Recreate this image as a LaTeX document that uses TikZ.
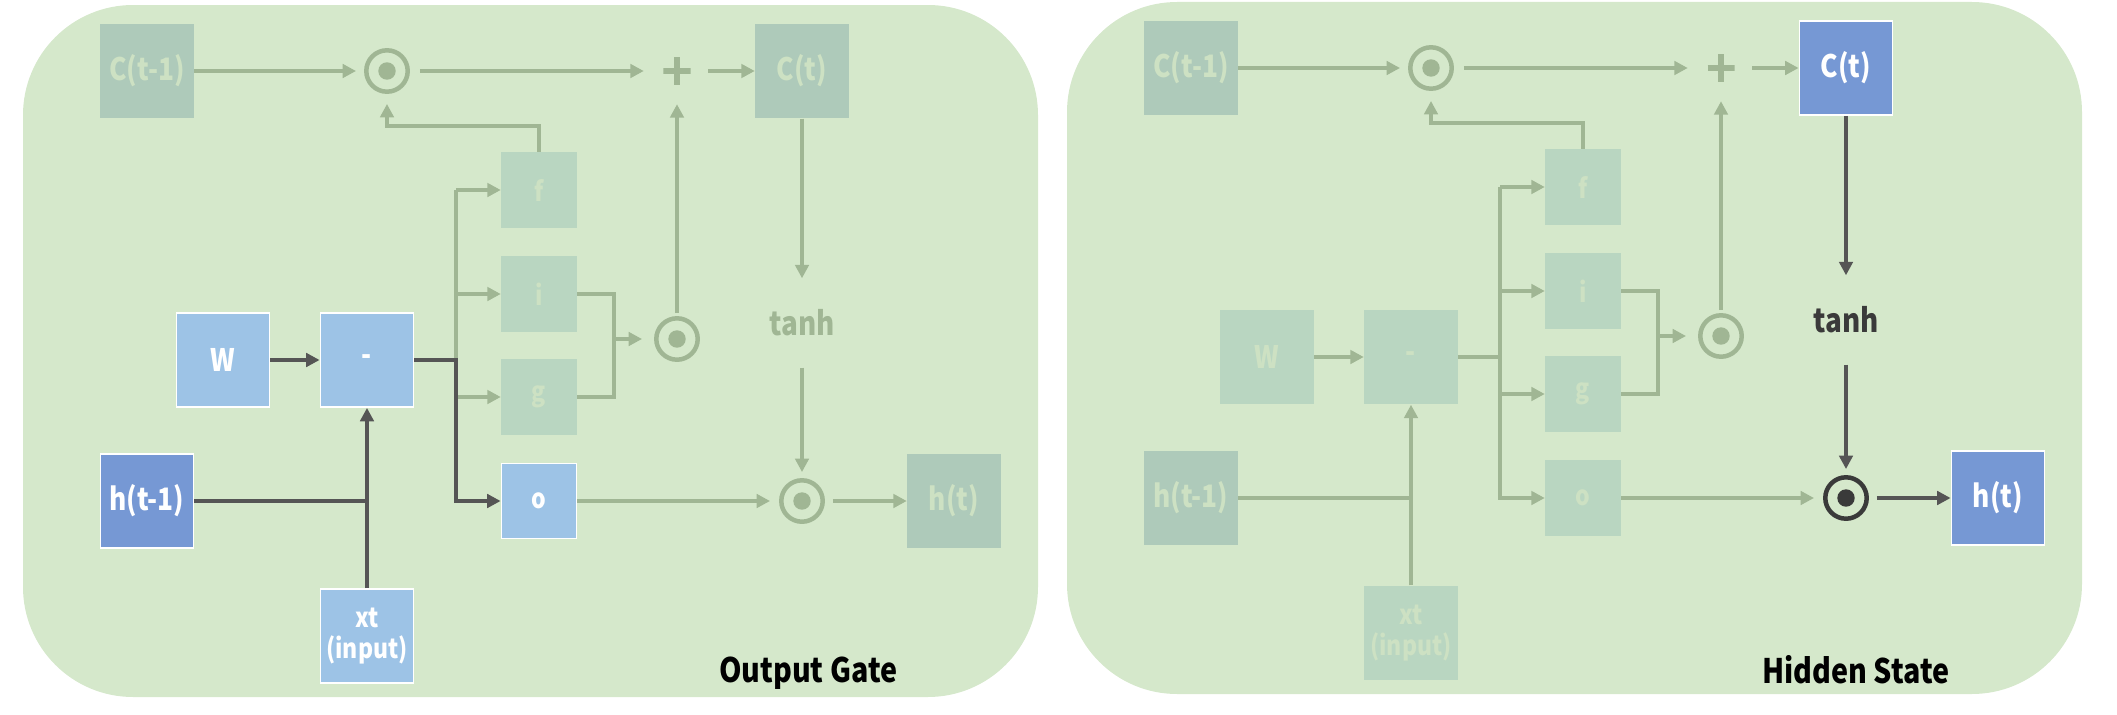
\documentclass[tikz,border=0pt]{standalone}
\usepackage{fontspec}
\setmainfont{Noto Sans CJK KR}[FakeStretch=0.85]
\usetikzlibrary{arrows.meta}

\definecolor{panelbg}{HTML}{D5E8CB}
\definecolor{fadebox}{HTML}{B9D6C1}
\definecolor{fadedeep}{HTML}{AECABA}
\definecolor{fadetext}{HTML}{CDE1C3}
\definecolor{fadeline}{HTML}{A0B694}
\definecolor{liteblue}{HTML}{9DC3E6}
\definecolor{deepblue}{HTML}{7698D4}
\definecolor{darkline}{HTML}{555555}
\definecolor{darkdot}{HTML}{3A3A3A}

\tikzset{
  box/.style={rectangle, inner sep=0pt, minimum width=0.93cm, minimum height=0.94cm,
    align=center, font=\bfseries\fontsize{8.8}{9.5}\selectfont},
  gate/.style={box, minimum width=0.75cm, minimum height=0.75cm,
    font=\bfseries\fontsize{7.7}{8.5}\selectfont},
  lit/.style={fill=liteblue, draw=white, line width=0.5pt, text=white},
  deep/.style={fill=deepblue, draw=white, line width=0.5pt, text=white},
  dim/.style={fill=fadebox, text=fadetext},
  dimdeep/.style={fill=fadedeep, text=fadetext},
  wire/.style={draw=fadeline, line width=1.3pt},
  live/.style={draw=darkline, line width=1.4pt},
  head/.style={-{Triangle[length=3.8pt,width=3.8pt]}},
  odot/.style={circle, draw=#1, line width=1.28pt, minimum size=0.414cm, inner sep=0pt,
    path picture={\fill[#1] (path picture bounding box.center) circle (0.087cm);}},
  plus/.style={rectangle, minimum size=0.27cm, inner sep=0pt,
    path picture={\draw[fadeline, line width=1.7pt]
      (path picture bounding box.north) -- (path picture bounding box.south)
      (path picture bounding box.west) -- (path picture bounding box.east);}},
  tanhtxt/.style={inner sep=0pt, minimum height=0.88cm,
    font=\bfseries\fontsize{9.3}{10}\selectfont},
  title/.style={anchor=east, inner sep=0pt, font=\bfseries\fontsize{9.6}{10}\selectfont},
}

% one LSTM cell; the scope picks which parts are lit
\newcommand{\lstmcell}{%
  \fill[panelbg, rounded corners=1.1cm] (23,5) rectangle (1038,697);
  \node[box, dimdeep] (cprev) at (147,71) {C(t-1)};
  \node[odot=fadeline] (fdot) at (387,71) {};
  \node[plus] (add) at (677,71) {};
  \node[box, ctstyle] (ct) at (802,71) {C(t)};
  \node[gate, dim] (f) at (539,190) {f};
  \node[gate, dim] (i) at (539,294) {i};
  \node[gate, dim] (g) at (539,397) {g};
  \node[gate, ostyle] (o) at (539,501) {o};
  \node[box, wstyle] (w) at (223,360) {W};
  \node[box, substyle] (sub) at (367,360) {-};
  \node[box, hprevstyle] (hprev) at (147,501) {h(t-1)};
  \node[box, xtstyle, font=\bfseries\fontsize{7.7}{8.6}\selectfont] (xt) at (367,636) {xt\\(input)};
  \node[odot=fadeline] (idot) at (677,339) {};
  \node[tanhstyle] (tanh) at (802,323) {tanh};
  \node[outdot] (hdot) at (802,501) {};
  \node[box, htstyle] (ht) at (954,501) {h(t)};
  \coordinate (fork) at (456,360);
  \coordinate (merge) at (614,339);
  \coordinate (fbend) at (539,126);
  % cell state and gates
  \draw[wire, head, shorten >=0.08cm] (cprev) -- (fdot);
  \draw[wire, head, shorten <=0.1cm, shorten >=0.19cm] (fdot) -- (add);
  \draw[wire, head, shorten <=0.17cm] (add) -- (ct);
  \draw[wire, head, shorten >=0.1cm] (f.north) -- (fbend) -| (fdot.south);
  \draw[wire] (fork |- f.west) -- (fork);
  \foreach \n in {f,i,g}
    \draw[wire, head] (fork |- \n.west) -- (\n.west);
  \draw[wire] (i.east) -| (merge) |- (g.east);
  \draw[wire, head, shorten >=0.12cm] (merge) -- (idot);
  \draw[wire, head, shorten <=0.03cm, shorten >=0.19cm] (idot) -- (add);
  \draw[wire, head, shorten >=0.09cm] (o) -- (hdot);
  % input path
  \draw[inwire, head] (w) -- (sub);
  \draw[inwire] (hprev) -- (hprev -| xt);
  \draw[inwire, head] (xt) -- (sub);
  \draw[inwire, head] (sub) -- (fork) |- (o);
  % output path
  \draw[outwire, head] (ct) -- (tanh);
  \draw[outwire, head, shorten >=0.06cm] (tanh) -- (hdot);
  \draw[outwire, head, shorten <=0.08cm] (hdot) -- (ht);
}

\begin{document}
\begin{tikzpicture}[x=0.01cm, y=-0.01cm]
  \useasboundingbox (0,0) rectangle (2117,715);
  % output gate
  \begin{scope}[name prefix=og-,
      wstyle/.style={lit}, substyle/.style={lit}, xtstyle/.style={lit},
      hprevstyle/.style={deep}, ostyle/.style={lit},
      ctstyle/.style={dimdeep}, htstyle/.style={dimdeep},
      tanhstyle/.style={tanhtxt, text=fadeline}, outdot/.style={odot=fadeline},
      inwire/.style={live}, outwire/.style={wire}]
    \lstmcell
    \node[title] (label) at (898,673) {Output Gate};
  \end{scope}
  % hidden state
  \begin{scope}[shift={(1044,-3)}, name prefix=hs-,
      wstyle/.style={dim}, substyle/.style={dim}, xtstyle/.style={dim},
      hprevstyle/.style={dimdeep}, ostyle/.style={dim},
      ctstyle/.style={deep}, htstyle/.style={deep},
      tanhstyle/.style={tanhtxt, text=darkdot}, outdot/.style={odot=darkdot},
      inwire/.style={wire}, outwire/.style={live}]
    \lstmcell
    \node[title] (label) at (906,673) {Hidden State};
  \end{scope}
\end{tikzpicture}
\end{document}
